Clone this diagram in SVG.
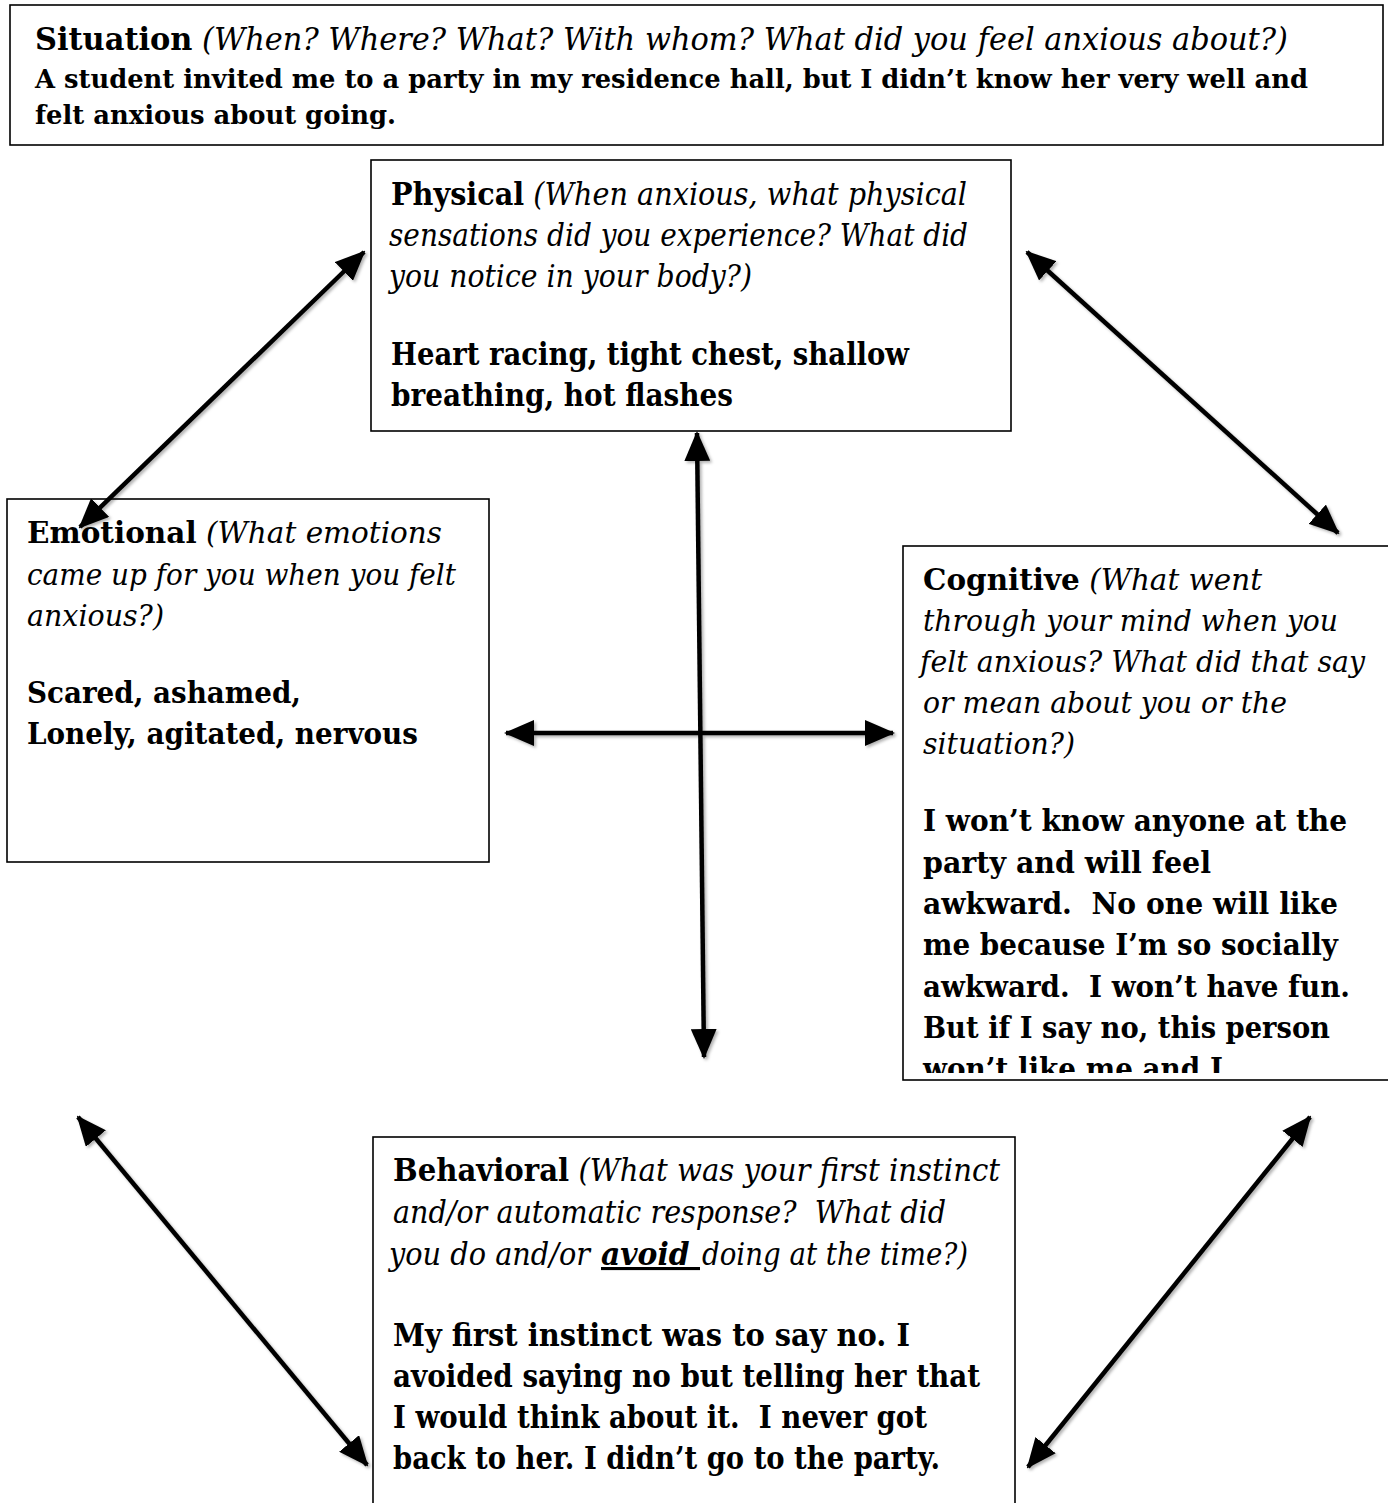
<svg xmlns="http://www.w3.org/2000/svg" width="1388" height="1503" viewBox="0 0 1388 1503">
<style>
.box{fill:#fff;stroke:#000;stroke-width:1.6}
text{font-family:"DejaVu Serif","Liberation Serif",serif;fill:#000;white-space:pre}
.b{font-weight:bold}
.i{font-style:italic}
.s1{font-size:31px}
.s2{font-size:26px}
.p{font-size:31px}
.e{font-size:29px}
.arr{stroke:#000;stroke-width:4.5;fill:none;marker-start:url(#ah);marker-end:url(#ah)}
</style>
<defs>
<marker id="ah" viewBox="0 0 30 26" refX="28" refY="13" markerWidth="30" markerHeight="26" markerUnits="userSpaceOnUse" orient="auto-start-reverse">
<path d="M0,0 L30,13 L0,26 Z" fill="#000"/>
</marker>
<filter id="sh" x="-10%" y="-10%" width="120%" height="120%">
<feDropShadow dx="2" dy="2" stdDeviation="1.5" flood-color="#000" flood-opacity="0.3"/>
</filter>
<clipPath id="cogclip"><rect x="903" y="546" width="490" height="527"/></clipPath>
</defs>

<g id="situation">
<rect class="box" x="10" y="5" width="1373" height="140"/>
<text x="35" y="50" textLength="1253" lengthAdjust="spacingAndGlyphs" class="s1"><tspan class="b">Situation</tspan><tspan class="i"> (When? Where? What? With whom? What did you feel anxious about?)</tspan></text>
<text x="35" y="88" textLength="1273" lengthAdjust="spacingAndGlyphs" class="s2 b">A student invited me to a party in my residence hall, but I didn’t know her very well and</text>
<text x="35" y="124" textLength="361" lengthAdjust="spacingAndGlyphs" class="s2 b">felt anxious about going.</text>
</g>

<g id="physical">
<rect class="box" x="371" y="160" width="640" height="271"/>
<text x="391" y="205" textLength="576" lengthAdjust="spacingAndGlyphs" class="p"><tspan class="b">Physical</tspan><tspan class="i"> (When anxious, what physical</tspan></text>
<text x="389" y="246" textLength="579" lengthAdjust="spacingAndGlyphs" class="p i">sensations did you experience? What did</text>
<text x="389" y="287" textLength="363" lengthAdjust="spacingAndGlyphs" class="p i">you notice in your body?)</text>
<text x="391" y="365" textLength="518" lengthAdjust="spacingAndGlyphs" class="p b">Heart racing, tight chest, shallow</text>
<text x="391" y="406" textLength="342" lengthAdjust="spacingAndGlyphs" class="p b">breathing, hot flashes</text>
</g>

<g id="emotional">
<rect class="box" x="7" y="499" width="482" height="363"/>
<text x="27" y="543" textLength="415" lengthAdjust="spacingAndGlyphs" class="e"><tspan class="b">Emotional</tspan><tspan class="i"> (What emotions</tspan></text>
<text x="27" y="585" textLength="429" lengthAdjust="spacingAndGlyphs" class="e i">came up for you when you felt</text>
<text x="27" y="626" textLength="137" lengthAdjust="spacingAndGlyphs" class="e i">anxious?)</text>
<text x="27" y="703" textLength="274" lengthAdjust="spacingAndGlyphs" class="e b">Scared, ashamed,</text>
<text x="27" y="744" textLength="391" lengthAdjust="spacingAndGlyphs" class="e b">Lonely, agitated, nervous</text>
</g>

<g id="cognitive">
<rect class="box" x="903" y="546" width="495" height="534"/>
<g clip-path="url(#cogclip)">
<text x="923" y="590" textLength="339" lengthAdjust="spacingAndGlyphs" class="e"><tspan class="b">Cognitive</tspan><tspan class="i"> (What went</tspan></text>
<text x="923" y="631" textLength="415" lengthAdjust="spacingAndGlyphs" class="e i">through your mind when you</text>
<text x="920" y="672" textLength="445" lengthAdjust="spacingAndGlyphs" class="e i">felt anxious? What did that say</text>
<text x="923" y="713" textLength="364" lengthAdjust="spacingAndGlyphs" class="e i">or mean about you or the</text>
<text x="923" y="754" textLength="152" lengthAdjust="spacingAndGlyphs" class="e i">situation?)</text>
<text x="923" y="831" textLength="424" lengthAdjust="spacingAndGlyphs" class="e b">I won’t know anyone at the</text>
<text x="923" y="873" textLength="288" lengthAdjust="spacingAndGlyphs" class="e b">party and will feel</text>
<text x="923" y="914" textLength="415" lengthAdjust="spacingAndGlyphs" class="e b">awkward.  No one will like</text>
<text x="923" y="955" textLength="415" lengthAdjust="spacingAndGlyphs" class="e b">me because I’m so socially</text>
<text x="923" y="997" textLength="427" lengthAdjust="spacingAndGlyphs" class="e b">awkward.  I won’t have fun.</text>
<text x="923" y="1038" textLength="407" lengthAdjust="spacingAndGlyphs" class="e b">But if I say no, this person</text>
<text x="923" y="1079" textLength="300" lengthAdjust="spacingAndGlyphs" class="e b">won’t like me and I</text>
</g>
</g>

<g id="behavioral">
<rect class="box" x="373" y="1137" width="642" height="380"/>
<text x="393" y="1181" textLength="607" lengthAdjust="spacingAndGlyphs" class="p"><tspan class="b">Behavioral</tspan><tspan class="i"> (What was your first instinct</tspan></text>
<text x="393" y="1223" textLength="553" lengthAdjust="spacingAndGlyphs" class="p i">and/or automatic response?  What did</text>
<text x="389" y="1265" textLength="201" lengthAdjust="spacingAndGlyphs" class="p i">you do and/or</text>
<text x="601" y="1265" textLength="99" lengthAdjust="spacingAndGlyphs" class="p i b" text-decoration="underline">avoid </text>
<text x="702" y="1265" textLength="266" lengthAdjust="spacingAndGlyphs" class="p i">doing at the time?)</text>
<text x="393" y="1346" textLength="517" lengthAdjust="spacingAndGlyphs" class="p b">My first instinct was to say no. I</text>
<text x="393" y="1387" textLength="587" lengthAdjust="spacingAndGlyphs" class="p b">avoided saying no but telling her that</text>
<text x="393" y="1428" textLength="534" lengthAdjust="spacingAndGlyphs" class="p b">I would think about it.  I never got</text>
<text x="393" y="1469" textLength="547" lengthAdjust="spacingAndGlyphs" class="p b">back to her. I didn’t go to the party.</text>
</g>

<g id="connectors" filter="url(#sh)">
<line class="arr" x1="364" y1="252" x2="80" y2="527"/>
<line class="arr" x1="1027" y1="252" x2="1338" y2="533"/>
<line class="arr" x1="697" y1="433" x2="704" y2="1057"/>
<line class="arr" x1="506" y1="733" x2="893" y2="733"/>
<line class="arr" x1="78" y1="1117" x2="367" y2="1465"/>
<line class="arr" x1="1310" y1="1117" x2="1028" y2="1467"/>
</g>
</svg>
